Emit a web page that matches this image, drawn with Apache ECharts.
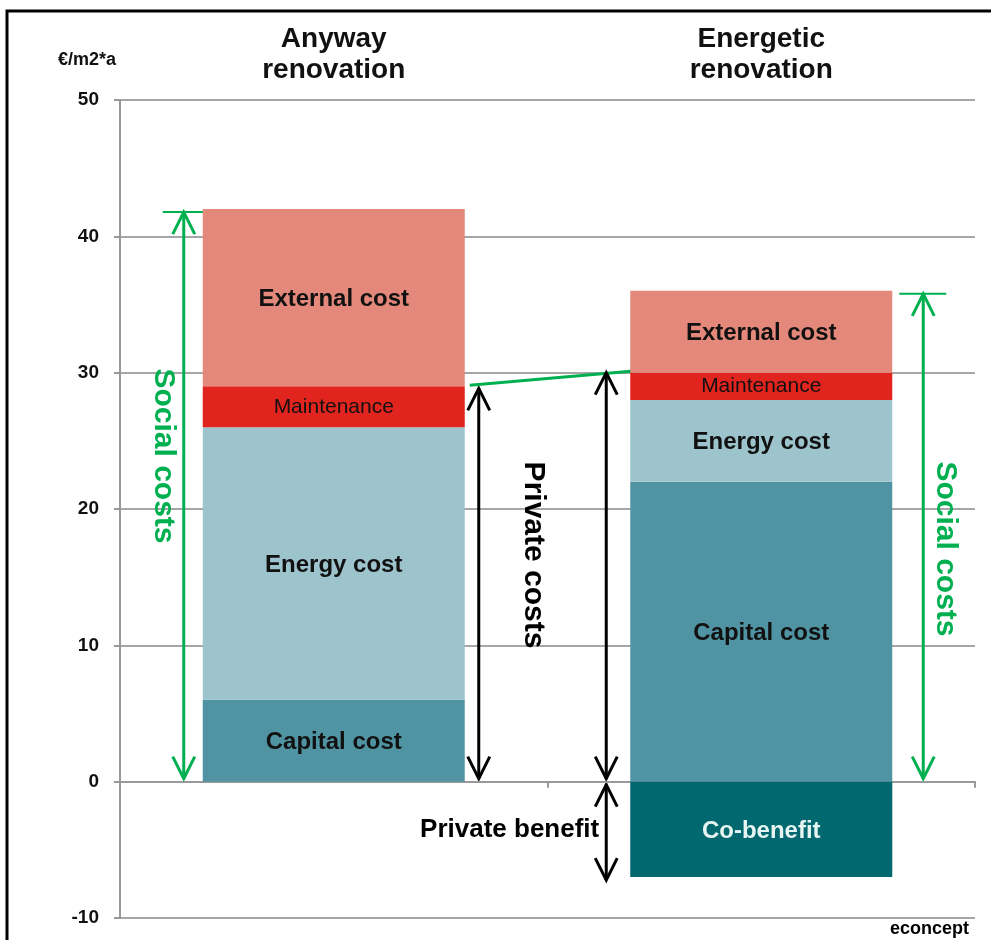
<!DOCTYPE html>
<html>
<head>
<meta charset="utf-8">
<script src="https://cdn.jsdelivr.net/npm/echarts@6/dist/echarts.min.js"></script>
<style>
  html, body { margin: 0; padding: 0; background: #fff; }
  #chart { width: 991px; height: 940px; }
</style>
</head>
<body>
<div id="chart"></div>
<script>
// chart data (€/m2*a)
const categories = ['Anyway\nrenovation', 'Energetic\nrenovation']
const capitalCost = [6, 22]
const energyCost = [20, 6]
const maintenance = [3, 2]
const externalCost = [13, 6]
const coBenefit = ['-', -7]
const yMin = -10
const yMax = 50
const yStep = 10

const GREEN = '#00B050'
const FONT = '"Liberation Sans", Arial, sans-serif'

const chart = echarts.init(document.getElementById('chart'))

function barSeries (name, data, color, label) {
  return {
    name: name,
    type: 'bar',
    stack: 'cost',
    data: data,
    barWidth: 262,
    itemStyle: { color: color },
    emphasis: { disabled: true },
    label: Object.assign({
      show: true,
      position: 'inside',
      offset: [0, 2],
      formatter: name,
      fontFamily: FONT,
      fontSize: 24,
      fontWeight: 'bold',
      color: '#111'
    }, label || {})
  }
}

chart.setOption({
  animation: false,
  backgroundColor: '#fff',
  grid: { left: 120, right: 16, top: 100, bottom: 22 },
  xAxis: [{
    type: 'category',
    data: categories,
    position: 'bottom',
    axisLine: { onZero: true, lineStyle: { color: '#999', width: 2 } },
    axisTick: { show: true, length: 6, lineStyle: { color: '#999', width: 2 } },
    axisLabel: { show: false }
  }, {
    type: 'category',
    data: categories,
    position: 'top',
    axisLine: { show: false },
    axisTick: { show: false },
    axisLabel: {
      margin: 14,
      fontFamily: FONT,
      fontSize: 28,
      fontWeight: 'bold',
      lineHeight: 31,
      color: '#111'
    }
  }],
  yAxis: {
    type: 'value',
    min: yMin,
    max: yMax,
    interval: yStep,
    name: '€/m2*a',
    nameGap: 31,
    nameTextStyle: {
      align: 'right',
      fontFamily: FONT,
      fontSize: 18,
      fontWeight: 'bold',
      color: '#111',
      padding: [0, 4, 0, 0]
    },
    axisLine: { show: true, lineStyle: { color: '#999', width: 2 } },
    axisTick: { show: true, length: 6, lineStyle: { color: '#999', width: 2 } },
    axisLabel: { margin: 21, fontFamily: FONT, fontSize: 19, fontWeight: 'bold', color: '#111' },
    splitLine: { lineStyle: { color: '#A6A6A6', width: 2 } }
  },
  series: [
    barSeries('Capital cost', capitalCost, '#5094A3'),
    barSeries('Energy cost', energyCost, '#9DC3CC'),
    barSeries('Maintenance', maintenance, '#E2241F', { fontSize: 21, fontWeight: 'normal', offset: [0, 0] }),
    barSeries('External cost', externalCost, '#E3887A'),
    barSeries('Co-benefit', coBenefit, '#016870', { color: '#E6F4F2' })
  ]
})

function total (i, arrays) {
  return arrays.reduce((s, a) => s + (typeof a[i] === 'number' ? a[i] : 0), 0)
}

function arrowLine (x, y1, y2, color, heads) {
  // vertical line with open heads at y1 (top) and/or y2 (bottom)
  const els = [{
    type: 'line',
    shape: { x1: x, y1: y1, x2: x, y2: y2 },
    style: { stroke: color, lineWidth: 3 }
  }]
  if (heads.top) {
    els.push({
      type: 'polyline',
      shape: { points: [[x - 11, y1 + 22], [x, y1], [x + 11, y1 + 22]] },
      style: { stroke: color, lineWidth: 3, fill: null }
    })
  }
  if (heads.bottom) {
    els.push({
      type: 'polyline',
      shape: { points: [[x - 11, y2 - 22], [x, y2], [x + 11, y2 - 22]] },
      style: { stroke: color, lineWidth: 3, fill: null }
    })
  }
  return els
}

function vText (text, x, y, color) {
  return {
    type: 'text',
    x: x,
    y: y,
    rotation: -Math.PI / 2,
    style: {
      text: text,
      font: 'bold 30px ' + FONT,
      fill: color,
      align: 'center',
      verticalAlign: 'middle',
      textAlign: 'center',
      textVerticalAlign: 'middle'
    }
  }
}

function buildAnnotations () {
  const pos = (i, v) => chart.convertToPixel({ seriesIndex: 0 }, [i, v])
  const all = [capitalCost, energyCost, maintenance, externalCost]
  const priv = [capitalCost, energyCost, maintenance]
  const top0 = total(0, all)
  const top1 = total(1, all)
  const priv0 = total(0, priv)
  const priv1 = total(1, priv)
  const benefit = total(1, [coBenefit])

  const c0 = pos(0, 0)[0]
  const c1 = pos(1, 0)[0]
  const y = v => pos(0, v)[1]
  const y0 = y(0)

  let els = []
  // left social costs
  const gx0 = c0 - 150
  els = els.concat(arrowLine(gx0, y(top0) + 3, y0 - 3, GREEN, { top: true, bottom: true }))
  els.push({ type: 'line', shape: { x1: gx0 - 21, y1: y(top0) + 3, x2: gx0 + 27, y2: y(top0) + 3 }, style: { stroke: GREEN, lineWidth: 2 } })
  els.push(vText('Social costs', gx0 - 20, 456, GREEN))

  // private costs (anyway)
  const bx0 = c0 + 145
  els = els.concat(arrowLine(bx0, y(priv0) + 2, y0 - 3, '#000', { top: true, bottom: true }))
  els.push(vText('Private costs', bx0 + 55, 555, '#000'))

  // connecting line between private cost tops
  els.push({ type: 'line', shape: { x1: c0 + 136, y1: y(priv0) - 1, x2: c1 - 125, y2: y(priv1) - 2 }, style: { stroke: GREEN, lineWidth: 3 } })

  // private costs / benefit (energetic)
  const bx1 = c1 - 155
  els = els.concat(arrowLine(bx1, y(priv1), y0 - 3, '#000', { top: true, bottom: true }))
  els = els.concat(arrowLine(bx1, y0 + 3, y(benefit) + 3, '#000', { top: true, bottom: true }))
  els.push({
    type: 'text',
    x: bx1 - 7,
    y: y(benefit / 2),
    style: {
      text: 'Private benefit',
      font: 'bold 26px ' + FONT,
      fill: '#000',
      align: 'right',
      verticalAlign: 'middle',
      textAlign: 'right',
      textVerticalAlign: 'middle'
    }
  })

  // right social costs
  const gx1 = c1 + 162
  els = els.concat(arrowLine(gx1, y(top1) + 3, y0 - 3, GREEN, { top: true, bottom: true }))
  els.push({ type: 'line', shape: { x1: gx1 - 24, y1: y(top1) + 3, x2: gx1 + 23, y2: y(top1) + 3 }, style: { stroke: GREEN, lineWidth: 2 } })
  els.push(vText('Social costs', gx1 + 22, 549, GREEN))

  // source + frame
  els.push({
    type: 'text',
    right: 22,
    bottom: 2,
    style: { text: 'econcept', font: 'bold 18px ' + FONT, fill: '#000' }
  })
  els.push({
    type: 'rect',
    shape: { x: 7, y: 11, width: 1000, height: 960 },
    style: { stroke: '#000', lineWidth: 3, fill: null },
    silent: true
  })

  chart.setOption({ graphic: { elements: els } })
}

buildAnnotations()
</script>
</body>
</html>
